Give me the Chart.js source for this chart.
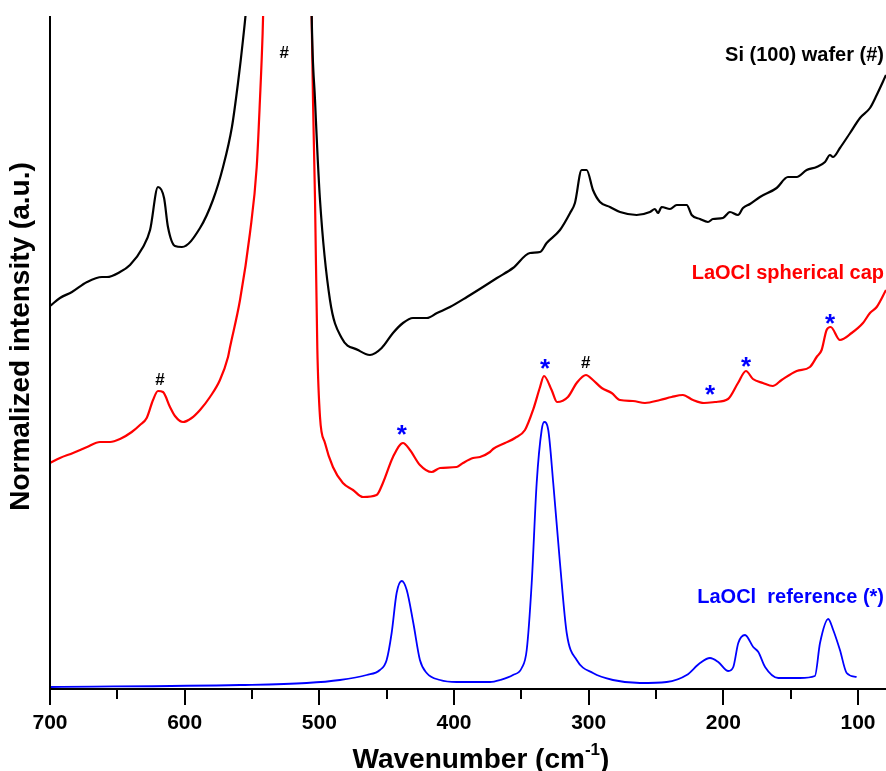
<!DOCTYPE html>
<html>
<head>
<meta charset="utf-8">
<title>Raman LaOCl</title>
<script src="https://cdn.jsdelivr.net/npm/chart.js@4.4.1/dist/chart.umd.min.js"></script>
<style>
html,body{margin:0;padding:0;background:#fff;}
#wrap{width:886px;height:771px;position:relative;}
</style>
</head>
<body>
<div id="wrap"><canvas id="grafico"></canvas></div>
<script>
// espectros: numero de onda (cm-1) e intensidad normalizada (u.a.)
const siWave = [700,692.6,683.7,672.5,661.4,657.7,648,640.6,630.9,625.7,619.8,615.3,612.4,607.2,602,588.6,579,571.5,564.9,560.4,556.7,553.7,548,530,520,510,505.7,503.2,499.5,492.1,483.4,471.3,462.4,453.7,445.3,437.9,430.5,420.1,412.6,403,390.4,378.5,368.1,356.2,343.6,336.1,331.2,321.3,313.8,310.2,305.2,301.5,296.8,291.6,284.2,276.7,264.4,254.5,250.8,248.5,245.8,239.6,234.6,227.2,223.5,217.3,211.4,207.7,200.3,195.1,189.1,185.4,180.2,172.8,160.4,152,145.5,138.1,130.7,124.5,120.8,118.6,113.4,105.9,98.5,91.1,86.1,79.2];
const siInt = [382,390,396,406,411,411,416,423,441,458,501,490,461,442,441,460,488,521,561,605,648,690,820,1600,2500,1200,675,588,488,388,350,338,333,340,355,365,370,370,375,381,391,401,410,420,435,436,445,458,475,485,518,518,498,486,481,476,473,476,479,475,481,479,483,483,473,469,466,469,470,476,473,480,484,491,500,511,511,518,521,526,533,531,540,555,570,580,593,613];

const capWave = [700,692.6,682.9,672.5,662.9,655.4,648,639.3,633.2,628.2,623.5,619.8,616.1,610.9,607.2,601.2,594.8,588.6,581.2,573.8,567.8,566.3,558.9,551.5,546.5,544.1,542.1,540,530,520,510,506.5,505.7,504.7,503.2,501.5,499.5,495.8,489.9,482.5,475,467.6,457.5,452.8,445.3,437.9,432.7,425.3,416.6,410.4,398,393.3,385.8,380.7,373.3,371,362.1,354.7,347.3,341.3,336.1,333.2,327.5,323.5,315.4,308.9,302,296.8,290.3,282.9,276.7,267.1,258.2,247,238.4,230,222.5,214.4,206.2,196.5,189.1,183.2,178,170.6,163.4,156.7,145.5,135.7,130.7,127,123.3,120.3,113.4,104.7,96.3,91.1,86.1,79.2];
const capInt = [225,230,235,241,246,246,249,256,263,270,288,297,296,281,272,266,270,278,291,308,331,341,388,455,521,588,655,760,1500,3000,1500,760,671,588,488,340,271,245,221,205,198,191,193,205,231,245,238,223,216,220,221,225,230,231,236,239,245,250,258,278,301,312,298,286,291,305,313,308,300,295,288,287,285,288,291,293,288,285,286,289,305,317,309,305,302,308,317,321,331,338,358,361,348,355,365,375,381,398];

const refWave = [700,558.9,509.4,484.7,464.8,455,450,446.3,442.6,438.8,435.1,430.2,425.3,420.3,410.4,398,373.3,365.8,356.2,349.7,346,342.3,338.6,334.9,333,330,326.3,321.3,316.3,308.9,296.8,282,261.9,242.1,227.2,217.3,209.9,203.8,196.3,192.6,188.9,183.9,177.8,174,169,159.2,143.1,132,128.2,122.1,118.4,113.4,108.4,101];
const refInt = [1,3,5,8,13,18,28,55,95,107,98,65,28,15,8,6,6,8,13,20,38,105,205,258,266,258,205,125,55,28,15,8,5,6,13,25,30,26,17,21,45,53,41,36,21,10,10,12,45,69,58,38,15,11];

const xTicks = [700,600,500,400,300,200,100];
const xMinor = [650,550,450,350,250,150];
const seriesNames = ['Si (100) wafer (#)','LaOCl spherical cap','LaOCl  reference (*)'];
const seriesLevel = [633,415,91];
const xTitle = 'Wavenumber (cm';
const xTitleSup = '-1';
const yTitle = 'Normalized intensity (a.u.)';

// marcas # (silicio) y * (LaOCl) sobre los picos
const markText = ['#','#','*','*','#','*','*','*'];
const markWave = [526,618.3,438.8,332.4,302.2,209.9,183.2,120.8];
const markLevel = [636,309,258,324,326,298,326,369];

const COLORES = ['#000000','#ff0000','#0000ff'];
const FUENTE = "'Liberation Sans', Arial, Helvetica, sans-serif";

function puntos(xs, ys){
  return xs.map((x,i)=>({x, y: ys[i]}));
}

function textoCentrado(ctx, txt, cx, cy){
  const m = ctx.measureText(txt);
  const asc = m.actualBoundingBoxAscent, desc = m.actualBoundingBoxDescent;
  ctx.fillText(txt, cx, cy + (asc - desc)/2);
}

// ejes, marcas de graduacion, titulos y anotaciones
const ejes = {
  id: 'ejes',
  afterDatasetsDraw(chart){
    const {ctx, chartArea: a, scales: {x, y}} = chart;
    ctx.save();
    ctx.strokeStyle = '#000';
    ctx.lineWidth = 2;
    ctx.beginPath();
    ctx.moveTo(a.left, a.top);
    ctx.lineTo(a.left, a.bottom);
    ctx.lineTo(a.right, a.bottom);
    ctx.stroke();

    ctx.beginPath();
    xTicks.forEach(v=>{
      const px = Math.round(x.getPixelForValue(v));
      ctx.moveTo(px, a.bottom); ctx.lineTo(px, a.bottom + 16);
    });
    xMinor.forEach(v=>{
      const px = Math.round(x.getPixelForValue(v));
      ctx.moveTo(px, a.bottom); ctx.lineTo(px, a.bottom + 10);
    });
    ctx.stroke();

    ctx.fillStyle = '#000';
    ctx.textAlign = 'center';
    ctx.textBaseline = 'alphabetic';
    ctx.font = `bold 21px ${FUENTE}`;
    xTicks.forEach(v=>{
      textoCentrado(ctx, String(v), x.getPixelForValue(v), a.bottom + 33);
    });

    // titulo eje x con superindice (el marco original sigue mas alla del recorte derecho)
    ctx.font = `bold 28px ${FUENTE}`;
    const wMain = ctx.measureText(xTitle).width;
    const wClose = ctx.measureText(')').width;
    ctx.font = `bold 17px ${FUENTE}`;
    const wSup = ctx.measureText(xTitleSup).width;
    const total = wMain + wSup + wClose;
    const sx = x.getPixelForValue(380) - total/2;
    const base = a.bottom + 79;
    ctx.textAlign = 'left';
    ctx.font = `bold 28px ${FUENTE}`;
    ctx.fillText(xTitle, sx, base);
    ctx.font = `bold 17px ${FUENTE}`;
    ctx.fillText(xTitleSup, sx + wMain, base - 13);
    ctx.font = `bold 28px ${FUENTE}`;
    ctx.fillText(')', sx + wMain + wSup, base);

    // titulo eje y
    ctx.save();
    ctx.translate(22, (a.top + a.bottom)/2 - 16);
    ctx.rotate(-Math.PI/2);
    ctx.textAlign = 'center';
    ctx.font = `bold 28px ${FUENTE}`;
    textoCentrado(ctx, yTitle, 0, 0);
    ctx.restore();

    // nombres de las series
    ctx.textAlign = 'right';
    ctx.font = `bold 20px ${FUENTE}`;
    seriesNames.forEach((n,i)=>{
      ctx.fillStyle = COLORES[i];
      textoCentrado(ctx, n, a.right - 2, y.getPixelForValue(seriesLevel[i]));
    });

    // marcas sobre los picos
    ctx.textAlign = 'center';
    markText.forEach((t,i)=>{
      ctx.fillStyle = t === '#' ? '#000' : '#0000ff';
      ctx.font = t === '#' ? `bold 17px ${FUENTE}` : `bold 26px ${FUENTE}`;
      textoCentrado(ctx, t, x.getPixelForValue(markWave[i]), y.getPixelForValue(markLevel[i]));
    });
    ctx.restore();
  }
};

document.addEventListener('DOMContentLoaded',()=>{
  const canvas = document.getElementById('grafico');
  const series = [puntos(siWave, siInt), puntos(capWave, capInt), puntos(refWave, refInt)];
  const anchos = [2.2, 2.2, 1.8];

  new Chart(canvas, {
    type: 'line',
    data: {
      datasets: series.map((d,i)=>({
        label: seriesNames[i],
        data: d,
        borderColor: COLORES[i],
        borderWidth: anchos[i],
        pointRadius: 0,
        fill: false,
        cubicInterpolationMode: 'monotone'
      }))
    },
    options: {
      responsive: true,
      maintainAspectRatio: false,
      animation: false,
      devicePixelRatio: 1,
      events: [],
      layout: {padding: {left: 50, top: 16, right: 0, bottom: 82}},
      plugins: {legend: {display: false}, tooltip: {enabled: false}},
      scales: {
        x: {type: 'linear', reverse: true, min: 79.2, max: 700, display: false},
        y: {type: 'linear', min: -1, max: 672, display: false}
      }
    },
    plugins: [ejes]
  });
});
</script>
</body>
</html>
